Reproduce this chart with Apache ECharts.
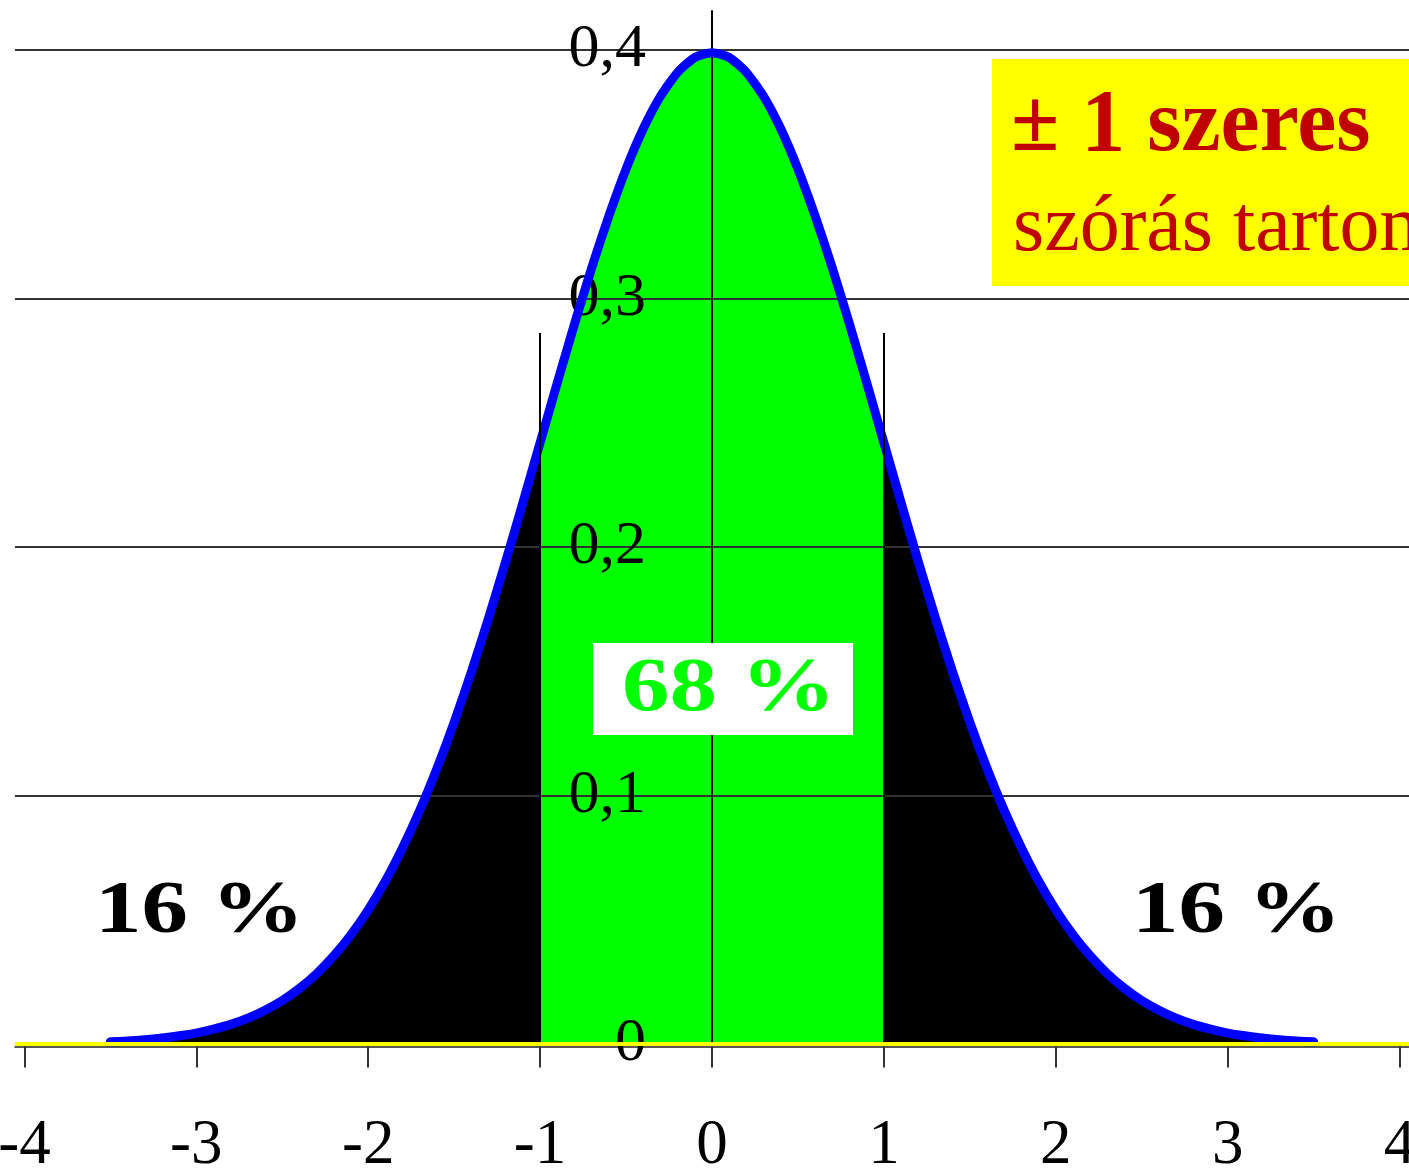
<!DOCTYPE html>
<html>
<head>
<meta charset="utf-8">
<title>Normális eloszlás – ±1 szórás</title>
<script src="https://cdn.jsdelivr.net/npm/echarts@6/dist/echarts.min.js"></script>
<style>
  html, body { margin: 0; padding: 0; background: #ffffff; }
  #chart { width: 1409px; height: 1169px; }
</style>
</head>
<body>
<div id="chart"></div>
<script>
// Standard normal density, sampled every 0.1 from -3.5 to 3.5
const xValues = [
  -3.5, -3.4, -3.3, -3.2, -3.1, -3.0, -2.9, -2.8, -2.7, -2.6,
  -2.5, -2.4, -2.3, -2.2, -2.1, -2.0, -1.9, -1.8, -1.7, -1.6,
  -1.5, -1.4, -1.3, -1.2, -1.1, -1.0, -0.9, -0.8, -0.7, -0.6,
  -0.5, -0.4, -0.3, -0.2, -0.1, 0.0, 0.1, 0.2, 0.3, 0.4,
  0.5, 0.6, 0.7, 0.8, 0.9, 1.0, 1.1, 1.2, 1.3, 1.4,
  1.5, 1.6, 1.7, 1.8, 1.9, 2.0, 2.1, 2.2, 2.3, 2.4,
  2.5, 2.6, 2.7, 2.8, 2.9, 3.0, 3.1, 3.2, 3.3, 3.4, 3.5
];
const density = [
  0.0009, 0.0012, 0.0017, 0.0024, 0.0033, 0.0044, 0.0060, 0.0079, 0.0104, 0.0136,
  0.0175, 0.0224, 0.0283, 0.0355, 0.0440, 0.0540, 0.0656, 0.0790, 0.0940, 0.1109,
  0.1295, 0.1497, 0.1714, 0.1942, 0.2179, 0.2420, 0.2661, 0.2897, 0.3123, 0.3332,
  0.3521, 0.3683, 0.3814, 0.3910, 0.3970, 0.3989, 0.3970, 0.3910, 0.3814, 0.3683,
  0.3521, 0.3332, 0.3123, 0.2897, 0.2661, 0.2420, 0.2179, 0.1942, 0.1714, 0.1497,
  0.1295, 0.1109, 0.0940, 0.0790, 0.0656, 0.0540, 0.0440, 0.0355, 0.0283, 0.0224,
  0.0175, 0.0136, 0.0104, 0.0079, 0.0060, 0.0044, 0.0033, 0.0024, 0.0017, 0.0012, 0.0009
];

// Axis ticks
const xTicks = [-4, -3, -2, -1, 0, 1, 2, 3, 4];
const yTicks = [0, 0.1, 0.2, 0.3, 0.4];

// Band of one standard deviation
const bandLow = -1;
const bandHigh = 1;
const bandMarkerTop = 0.2861;

// Annotation texts
const tailShare = '16 %';
const centerShare = '68 %';
const boxLine1 = '± 1 szeres';
const boxLine2 = 'szórás tartomány';

const curve = xValues.map((x, i) => [x, density[i]]);
const centerPart = curve.filter(p => p[0] >= bandLow && p[0] <= bandHigh);

const serif = '"Liberation Serif", "Times New Roman", serif';

const gridLeft = 15;
const xMin = -4.055;
const xMax = 4.055;
const plotWidth = 1409 - gridLeft;
// The vertical axis stands at x = 0 inside the plot
const yAxisShift = -plotWidth * (0 - xMin) / (xMax - xMin);

const chart = echarts.init(document.getElementById('chart'), null, { renderer: 'canvas' });

const option = {
  backgroundColor: '#ffffff',
  animation: false,
  grid: {
    left: gridLeft, right: 0, top: 11, bottom: 125,
    containLabel: false,
    outerBoundsMode: 'none'
  },
  xAxis: {
    type: 'value',
    min: xMin,
    max: xMax,
    offset: 2.5,
    z: 3,
    axisLine: { onZero: false, lineStyle: { color: '#222', width: 1.5 } },
    axisTick: { customValues: xTicks, length: 21, lineStyle: { color: '#333', width: 2 } },
    axisLabel: {
      customValues: xTicks,
      margin: 68,
      color: '#000',
      fontFamily: serif,
      fontSize: 63
    },
    splitLine: { show: false }
  },
  yAxis: {
    type: 'value',
    min: 0,
    max: 0.4157,
    position: 'left',
    offset: yAxisShift,
    z: 3,
    axisLine: { onZero: false, lineStyle: { color: '#000', width: 2 } },
    axisTick: { show: false, customValues: yTicks },
    axisLabel: {
      customValues: yTicks,
      margin: 66,
      color: '#000',
      fontFamily: serif,
      fontSize: 62,
      formatter: v => String(v).replace('.', ',')
    },
    splitLine: { show: true, lineStyle: { color: '#333', width: 2 } }
  },
  series: [
    {
      name: 'tails',
      type: 'line',
      data: curve,
      smooth: 0.2,
      symbol: 'none',
      z: 1,
      lineStyle: { width: 0 },
      areaStyle: { color: '#000000', opacity: 1 }
    },
    {
      name: 'center',
      type: 'line',
      data: centerPart,
      smooth: 0.2,
      symbol: 'none',
      z: 2,
      lineStyle: { width: 0 },
      areaStyle: { color: '#00ff00', opacity: 1 },
      markLine: {
        silent: true,
        symbol: ['none', 'none'],
        label: { show: false },
        lineStyle: { color: '#000', width: 2, type: 'solid' },
        data: [
          [{ coord: [bandLow, 0] }, { coord: [bandLow, bandMarkerTop] }],
          [{ coord: [bandHigh, 0] }, { coord: [bandHigh, bandMarkerTop] }]
        ]
      }
    },
    {
      name: 'density',
      type: 'line',
      data: curve,
      smooth: 0.2,
      symbol: 'none',
      z: 4,
      lineStyle: { color: '#0000ff', width: 9, join: 'round', cap: 'round' }
    },
    {
      name: 'baseline',
      type: 'line',
      data: [[xMin, 0], [xMax, 0]],
      symbol: 'none',
      z: 5,
      lineStyle: { color: '#ffff00', width: 4 }
    }
  ],
  graphic: [
    {
      type: 'rect',
      z: 10,
      shape: { x: 992, y: 59, width: 430, height: 227 },
      style: { fill: '#ffff00' }
    },
    {
      type: 'text',
      z: 11,
      x: 1011, y: 127,
      style: {
        text: boxLine1,
        font: 'bold 88px ' + serif,
        fill: '#c00000',
        textAlign: 'left',
        textVerticalAlign: 'middle'
      }
    },
    {
      type: 'text',
      z: 11,
      x: 1013, y: 229,
      style: {
        text: boxLine2,
        font: '80px ' + serif,
        fill: '#c00000',
        textAlign: 'left',
        textVerticalAlign: 'middle'
      }
    },
    {
      type: 'rect',
      z: 10,
      shape: { x: 593, y: 643, width: 260, height: 92 },
      style: { fill: '#ffffff' }
    },
    {
      type: 'text',
      z: 11,
      x: 622, y: 690,
      scaleX: 1.25,
      style: {
        text: centerShare,
        font: 'bold 76px ' + serif,
        fill: '#00ff00',
        textAlign: 'left',
        textVerticalAlign: 'middle'
      }
    },
    {
      type: 'text',
      z: 11,
      x: 95, y: 913,
      scaleX: 1.24,
      style: {
        text: tailShare,
        font: 'bold 75px ' + serif,
        fill: '#000000',
        textAlign: 'left',
        textVerticalAlign: 'middle'
      }
    },
    {
      type: 'text',
      z: 11,
      x: 1132, y: 913,
      scaleX: 1.24,
      style: {
        text: tailShare,
        font: 'bold 75px ' + serif,
        fill: '#000000',
        textAlign: 'left',
        textVerticalAlign: 'middle'
      }
    }
  ]
};

chart.setOption(option);
</script>
</body>
</html>
